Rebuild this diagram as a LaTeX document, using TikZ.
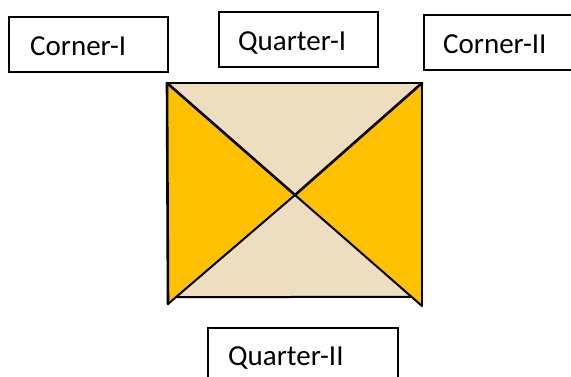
\documentclass[tikz,border=0pt]{standalone}
\usepackage{fontspec}
\setmainfont{Carlito}
\usetikzlibrary{calc}
\definecolor{gold}{RGB}{255,192,0}
\definecolor{tan}{RGB}{238,222,192}
\begin{document}
\begin{tikzpicture}[x=1pt,y=-1pt,
  boxline/.style={draw=black,line width=1.9pt,fill=none,inner sep=0pt,anchor=north west},
  lbl/.style={anchor=base west,inner sep=0pt,font=\fontsize{29}{34}\selectfont},
  edge/.style={draw=black,line width=2.6pt,line cap=round},
  thinedge/.style={draw=black,line width=2.0pt,line cap=round}]
\useasboundingbox (0,0) rectangle (571,376);
% boxes
\node[boxline,minimum width=159pt,minimum height=55pt] (c1box) at (8,16) {};
\node[boxline,minimum width=159pt,minimum height=55pt] (q1box) at (218,11) {};
\node[boxline,minimum width=160pt,minimum height=55pt] (c2box) at (423,14) {};
\node[boxline,minimum width=190pt,minimum height=60pt] (q2box) at (207,327) {};
% labels
\node[lbl] (c1) at (30,55) {Corner-I};
\node[lbl] (q1) at (238,50) {Quarter-I};
\node[lbl] (c2) at (443,53) {Corner-II};
\node[lbl] (q2) at (228,365) {Quarter-II};
% square
\coordinate (TL) at (167,83);
\coordinate (TR) at (422,83);
\coordinate (BL) at (168,304);
\coordinate (BR) at (422,306);
\coordinate (C) at (295,195);
\coordinate (BLb) at ($(TR)!0.9683!(BL)$);
\coordinate (BRb) at ($(TL)!0.9596!(BR)$);
\fill[tan] (TL) -- (TR) -- (C) -- cycle;
\fill[tan] (C) -- (BLb) -- (BRb) -- cycle;
\fill[gold] (TL) -- (C) -- (BL) -- cycle;
\fill[gold] (TR) -- (C) -- (BR) -- cycle;
\draw[edge] (TL) -- (TR);
\draw[edge] (TL) -- (BL);
\draw[edge] (TR) -- (BR);
\draw[edge] (TL) -- (C);
\draw[edge] (TR) -- (C);
\draw[thinedge] (C) -- (BR);
\draw[thinedge] (C) -- (BL);
\draw[thinedge] (BLb) -- (BRb);
\end{tikzpicture}
\end{document}
